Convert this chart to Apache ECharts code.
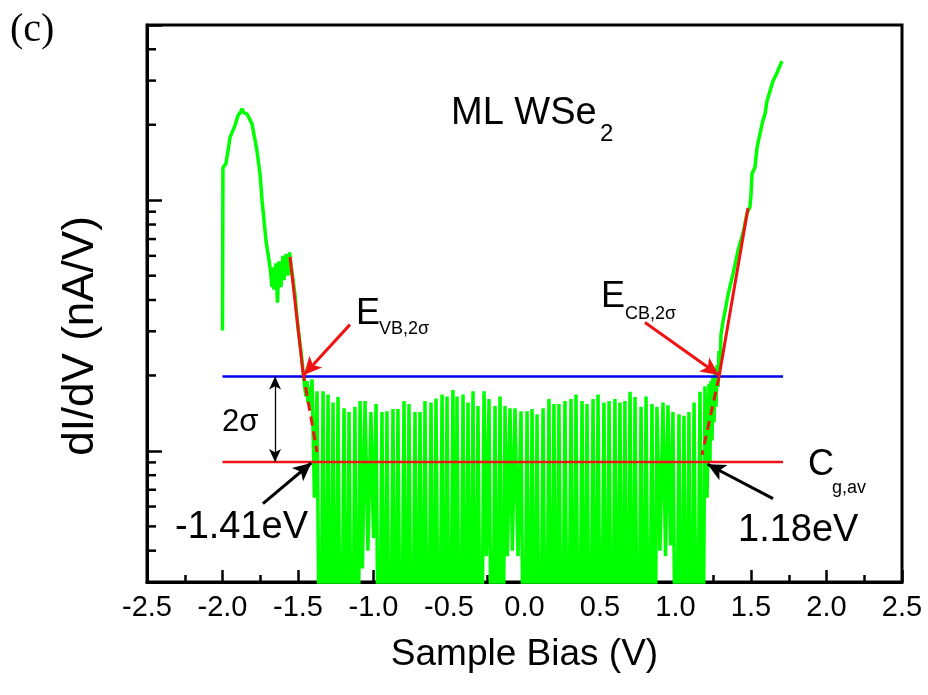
<!DOCTYPE html>
<html><head><meta charset="utf-8">
<script src="https://cdn.jsdelivr.net/npm/echarts@6/dist/echarts.min.js"></script>
<style>html,body{margin:0;padding:0;background:#fff}#c{width:928px;height:695px}</style>
</head><body><div id="c"></div>
<script>
// ---------------- data ----------------
const xTickMin = -2.5, xTickMax = 2.5, xTickStep = 0.5;
const yMin = 0.03, yMax = 5;
const yMinorTicks = [0.04,0.05,0.06,0.07,0.08,0.09,0.2,0.3,0.4,0.5,0.6,0.7,0.8,0.9,2,3,4];

// valence-band side of the spectrum
const vbBias = [-2.000,-1.997,-1.977,-1.950,-1.917,-1.897,-1.880,-1.871,-1.858,-1.838,
  -1.805,-1.772,-1.752,-1.738,-1.712,-1.685,-1.672,-1.666,-1.659,-1.646,
  -1.636,-1.626,-1.613,-1.600,-1.593,-1.579,-1.566,-1.556,-1.546,-1.536,
  -1.520,-1.510,-1.500,-1.487,-1.477,-1.467,-1.460,-1.454,-1.447,-1.440,
  -1.434,-1.427,-1.420];
const vbDidv = [0.302,1.35,1.40,1.78,1.99,2.18,2.25,2.32,2.23,2.21,
  2.02,1.58,1.28,1.00,0.69,0.54,0.45,0.54,0.44,0.56,
  0.39,0.57,0.45,0.60,0.48,0.61,0.50,0.62,0.55,0.50,
  0.42,0.36,0.31,0.27,0.24,0.21,0.19,0.176,0.165,0.19,
  0.155,0.18,0.150];

// noise inside the gap (alternating peak / trough samples)
const gapBias = [
  -1.407,-1.391,-1.374,-1.354,-1.334,-1.318,-1.301,-1.285,-1.268,-1.252,
  -1.235,-1.215,-1.195,-1.179,-1.162,-1.142,-1.123,-1.106,-1.089,-1.073,
  -1.056,-1.037,-1.017,-1.000,-0.983,-0.964,-0.944,-0.928,-0.911,-0.891,
  -0.871,-0.855,-0.838,-0.818,-0.798,-0.782,-0.765,-0.745,-0.725,-0.709,
  -0.692,-0.676,-0.659,-0.639,-0.619,-0.603,-0.586,-0.566,-0.546,-0.530,
  -0.513,-0.494,-0.474,-0.461,-0.447,-0.427,-0.407,-0.391,-0.374,-0.358,
  -0.341,-0.325,-0.308,-0.288,-0.268,-0.252,-0.235,-0.215,-0.195,-0.179,
  -0.162,-0.146,-0.129,-0.113,-0.096,-0.080,-0.063,-0.043,-0.023,-0.003,
  0.017,0.033,0.050,0.066,0.083,0.103,0.123,0.142,0.162,0.179,
  0.195,0.212,0.228,0.248,0.268,0.288,0.308,0.325,0.341,0.361,
  0.381,0.397,0.414,0.434,0.454,0.470,0.487,0.507,0.526,0.543,
  0.560,0.579,0.599,0.616,0.632,0.649,0.665,0.682,0.699,0.715,
  0.732,0.752,0.772,0.788,0.805,0.825,0.844,0.861,0.877,0.897,
  0.917,0.934,0.950,0.967,0.983,1.003,1.023,1.040,1.056,1.073,
  1.089,1.106,1.123,1.143,1.162,1.179,1.195];
const gapDidv = [
  0.193,0.065,0.173,0.005,0.173,0.005,0.168,0.005,0.156,0.005,
  0.164,0.005,0.148,0.005,0.143,0.005,0.150,0.005,0.158,0.034,
  0.158,0.040,0.143,0.045,0.154,0.005,0.143,0.005,0.144,0.005,
  0.147,0.005,0.147,0.005,0.158,0.005,0.154,0.005,0.143,0.005,
  0.143,0.005,0.158,0.005,0.156,0.005,0.162,0.005,0.168,0.005,
  0.165,0.005,0.175,0.005,0.165,0.005,0.168,0.005,0.156,0.005,
  0.173,0.005,0.151,0.005,0.173,0.038,0.161,0.005,0.151,0.005,
  0.165,0.005,0.151,0.038,0.148,0.040,0.148,0.038,0.144,0.005,
  0.144,0.005,0.147,0.005,0.140,0.005,0.148,0.005,0.161,0.005,
  0.154,0.005,0.154,0.005,0.158,0.005,0.161,0.005,0.168,0.005,
  0.158,0.005,0.154,0.005,0.161,0.005,0.168,0.005,0.156,0.005,
  0.158,0.005,0.161,0.005,0.156,0.005,0.158,0.005,0.172,0.005,
  0.164,0.005,0.150,0.005,0.165,0.005,0.154,0.005,0.150,0.040,
  0.156,0.038,0.152,0.042,0.143,0.005,0.140,0.005,0.138,0.005,
  0.143,0.005,0.156,0.005,0.172,0.005,0.181];

// conduction-band side of the spectrum
const cbBias = [1.209,1.222,1.228,1.235,1.242,1.248,1.255,1.262,1.268,1.275,
  1.282,1.288,1.295,1.301,1.315,1.328,1.348,1.381,1.414,1.447,
  1.474,1.493,1.500,1.507,1.526,1.540,1.560,1.579,1.593,1.606,
  1.626,1.646,1.672,1.705];
const cbDidv = [0.065,0.185,0.09,0.19,0.11,0.20,0.13,0.21,0.15,0.22,
  0.18,0.25,0.22,0.29,0.33,0.36,0.42,0.51,0.63,0.74,
  0.89,0.94,1.05,1.28,1.35,1.62,1.85,2.08,2.21,2.49,
  2.73,2.99,3.22,3.59];

// reference levels
const levelBias = [-2.0, 1.712];
const sigmaLevel = 0.198;   // 2 sigma level (blue)
const cgavLevel = 0.0904;   // C_g,av (red)

// tangent fits: [start of solid, end of solid / start of dashed, end of dashed]
const vbFitBias = [-1.553, -1.467, -1.374];
const vbFitDidv = [0.594, 0.206, 0.099];
const cbFitBias = [1.480, 1.288, 1.175];
const cbFitDidv = [0.93, 0.197, 0.0964];

// annotation arrows (data coordinates)
const redArrowFrom = [[-1.156, 0.319], [0.798, 0.325]];
const redArrowTo   = [[-1.462, 0.201], [1.287, 0.201]];
const blackArrowFrom = [[-1.732, 0.0616], [1.646, 0.0645]];
const blackArrowTo   = [[-1.412, 0.0895], [1.212, 0.0885]];
const sigmaArrowBias = -1.652;

// ---------------- chart ----------------
const FONT = '"Liberation Sans", Arial, sans-serif';
const zip = (a, b) => a.map((v, i) => [v, b[i]]);
const spectrum = zip(vbBias, vbDidv).concat(zip(gapBias, gapDidv), zip(cbBias, cbDidv));
const RED = '#ee1414';

const txt = (x, y, text, size, o = {}) => ({
  type: 'text', x: x, y: y, rotation: o.rot || 0, silent: true, z: 100,
  style: {
    text: text, font: (size + 'px ') + (o.family || FONT), fill: '#000',
    textAlign: o.align || 'left', align: o.align || 'left',
    textVerticalAlign: 'middle', verticalAlign: 'middle'
  }
});

const chart = echarts.init(document.getElementById('c'), null, {renderer: 'canvas', width: 928, height: 695});
chart.setOption({
  animation: false,
  backgroundColor: '#ffffff',
  grid: {left: 147, right: 26, top: 25, bottom: 113, show: true, borderColor: '#000', borderWidth: 3},
  xAxis: {
    type: 'value', min: xTickMin, max: xTickMax, interval: xTickStep,
    axisLine: {show: true, onZero: false, lineStyle: {color: '#000', width: 3}},
    axisTick: {show: true, inside: true, length: 12, lineStyle: {color: '#000', width: 2.5}},
    minorTick: {show: true, splitNumber: 2, length: 7, lineStyle: {color: '#000', width: 2.5}},
    splitLine: {show: false}, minorSplitLine: {show: false},
    axisLabel: {fontSize: 29, fontFamily: FONT, color: '#000', margin: 11, formatter: v => v.toFixed(1)},
    name: 'Sample Bias (V)', nameLocation: 'middle', nameGap: 54,
    nameTextStyle: {fontSize: 37, fontFamily: FONT, color: '#000'}
  },
  yAxis: {
    type: 'log', logBase: 10, min: yMin, max: yMax,
    axisLine: {show: true, onZero: false, lineStyle: {color: '#000', width: 3}},
    axisTick: {show: true, inside: true, length: 15, lineStyle: {color: '#000', width: 2.5}},
    minorTick: {show: false},
    axisLabel: {show: false}, splitLine: {show: false}
  },
  series: [
    {
      type: 'line', data: spectrum, symbol: 'none', showSymbol: false, clip: true, silent: true, z: 2,
      lineStyle: {color: '#00ff00', width: 3.5}
    },
    {
      type: 'line', data: [[levelBias[0], sigmaLevel], [levelBias[1], sigmaLevel]], symbol: 'none', silent: true, z: 3,
      lineStyle: {color: '#0000ee', width: 2.5},
      markLine: {
        silent: true, animation: false, symbol: ['none', 'arrow'], symbolSize: [13, 18],
        label: {show: false}, emphasis: {disabled: true},
        lineStyle: {color: RED, width: 3, type: 'solid'},
        data: redArrowFrom.map((f, i) => [{coord: f}, {coord: redArrowTo[i]}])
      }
    },
    {
      type: 'line', data: [[levelBias[0], cgavLevel], [levelBias[1], cgavLevel]], symbol: 'none', silent: true, z: 3,
      lineStyle: {color: RED, width: 2.5},
      markLine: {
        silent: true, animation: false, symbol: ['none', 'arrow'], symbolSize: [13, 18],
        label: {show: false}, emphasis: {disabled: true},
        lineStyle: {color: '#000', width: 3, type: 'solid'},
        data: blackArrowFrom.map((f, i) => [{coord: f}, {coord: blackArrowTo[i]}])
      }
    },
    {
      type: 'line', data: zip(vbFitBias.slice(0, 2), vbFitDidv.slice(0, 2)), symbol: 'none', silent: true, z: 4,
      lineStyle: {color: RED, width: 3}
    },
    {
      type: 'line', data: zip(vbFitBias.slice(1), vbFitDidv.slice(1)), symbol: 'none', silent: true, z: 4,
      lineStyle: {color: RED, width: 3, type: [9, 6]},
      markLine: {
        silent: true, animation: false, symbol: ['arrow', 'arrow'], symbolSize: [9, 13],
        label: {show: false}, emphasis: {disabled: true},
        lineStyle: {color: '#000', width: 1.3, type: 'solid'},
        data: [[{coord: [sigmaArrowBias, sigmaLevel]}, {coord: [sigmaArrowBias, cgavLevel]}]]
      }
    },
    {
      type: 'line', data: zip(cbFitBias.slice(0, 2), cbFitDidv.slice(0, 2)), symbol: 'none', silent: true, z: 4,
      lineStyle: {color: RED, width: 3}
    },
    {
      type: 'line', data: zip(cbFitBias.slice(1), cbFitDidv.slice(1)), symbol: 'none', silent: true, z: 4,
      lineStyle: {color: RED, width: 3, type: [9, 6]}
    },
    {
      type: 'custom', coordinateSystem: 'cartesian2d', silent: true, clip: false, z: 10,
      data: yMinorTicks.map(v => [xTickMin, v]),
      renderItem: (params, api) => {
        const p = api.coord([api.value(0), api.value(1)]);
        return {type: 'line', shape: {x1: p[0], y1: p[1], x2: p[0] + 9, y2: p[1]},
                style: {stroke: '#000', lineWidth: 2.5}};
      }
    }
  ],
  graphic: [
    txt(10, 30, '(c)', 40, {family: '"Liberation Serif", "Times New Roman", serif'}),
    txt(81, 336, 'dI/dV (nA/V)', 44, {rot: Math.PI / 2, align: 'center'}),
    txt(451, 114, 'ML WSe', 38),
    txt(600, 134, '2', 24),
    txt(356, 314, 'E', 36),
    txt(379, 329, 'VB,2σ', 18),
    txt(601, 297, 'E', 36),
    txt(625, 314, 'CB,2σ', 18),
    txt(222, 422, '2σ', 31),
    txt(175, 528, '-1.41eV', 38),
    txt(738, 531, '1.18eV', 38),
    txt(808, 465, 'C', 36),
    txt(832, 488, 'g,av', 18)
  ]
});
</script>
</body></html>
